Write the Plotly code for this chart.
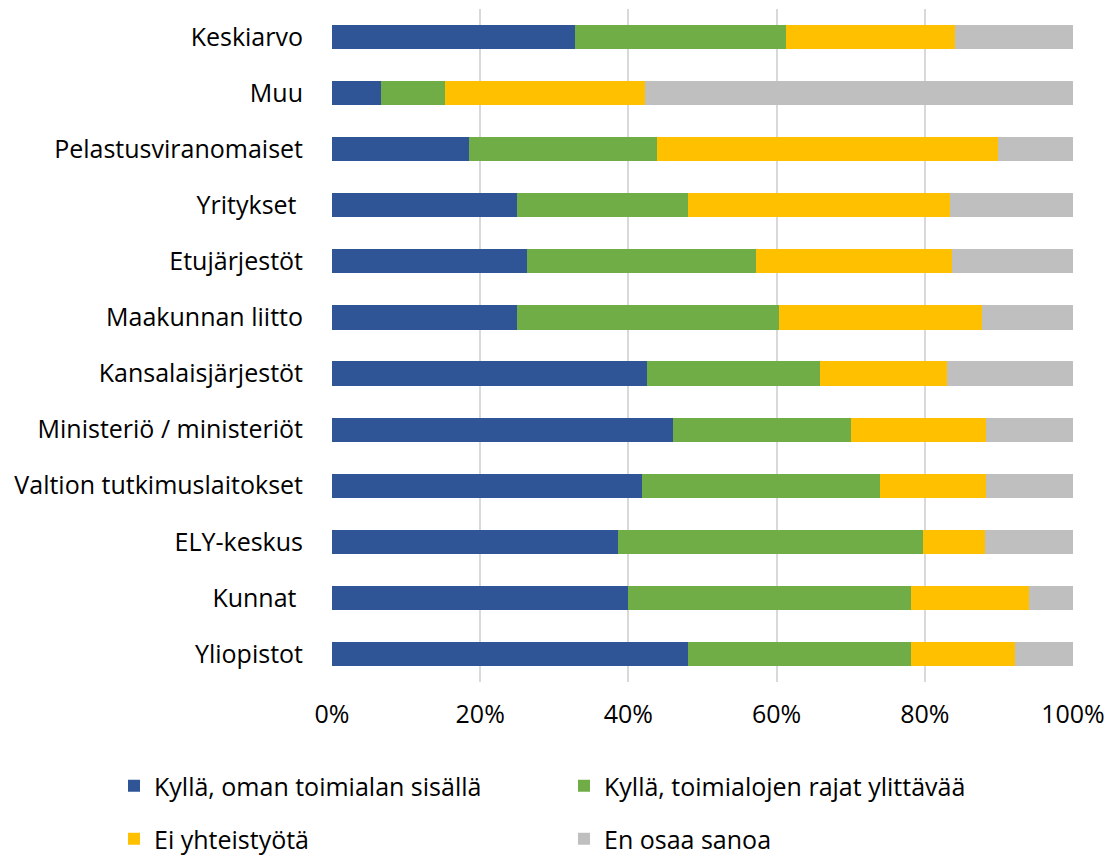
import plotly.graph_objects as go

categories = ["Keskiarvo", "Muu", "Pelastusviranomaiset", "Yritykset ", "Etujärjestöt",
              "Maakunnan liitto", "Kansalaisjärjestöt", "Ministeriö / ministeriöt",
              "Valtion tutkimuslaitokset", "ELY-keskus", "Kunnat ", "Yliopistot"]
oman = [32.8, 6.6, 18.5, 25.0, 26.3, 25.0, 42.5, 46.0, 41.8, 38.6, 39.9, 48.0]
rajat = [28.5, 8.6, 25.4, 23.0, 30.9, 35.3, 23.4, 24.0, 32.2, 41.2, 38.2, 30.1]
ei = [22.8, 27.0, 46.0, 35.4, 26.5, 27.4, 17.1, 18.3, 14.3, 8.3, 16.0, 14.1]
eos = [15.9, 57.8, 10.1, 16.6, 16.3, 12.3, 17.0, 11.7, 11.7, 11.9, 5.9, 7.8]
xticks = [0, 0.2, 0.4, 0.6, 0.8, 1.0]
xticklabels = ["0%", "20%", "40%", "60%", "80%", "100%"]

series = [
    ("Kyllä, oman toimialan sisällä", oman, "#2F5597"),
    ("Kyllä, toimialojen rajat ylittävää", rajat, "#70AD47"),
    ("Ei yhteistyötä", ei, "#FFC000"),
    ("En osaa sanoa", eos, "#BFBFBF"),
]
W, H = 1104, 851  # page has an 8px body margin
legend_pos = [(106, 778), (556, 778), (106, 831), (556, 831)]

font = dict(family="Open Sans, Liberation Sans, sans-serif", size=25, color="#000000")
lfont = dict(family="Open Sans, Liberation Sans, sans-serif", size=25, color="#000000")

fig = go.Figure()
layout_legends = {}
for i, (name, vals, col) in enumerate(series):
    lg = "legend" if i == 0 else f"legend{i + 1}"
    fig.add_trace(go.Bar(y=categories, x=[v / 100 for v in vals], name=name, orientation="h",
                         marker=dict(color=col, line=dict(width=0)), width=0.43, legend=lg))
    px, py = legend_pos[i]
    layout_legends[lg] = dict(xref="container", yref="container", x=px / W, y=1 - py / H,
                              xanchor="left", yanchor="middle", font=lfont,
                              bgcolor="rgba(0,0,0,0)")

fig.update_layout(
    barmode="stack",
    width=W, height=H,
    margin=dict(l=324, r=39, t=1, b=177, autoexpand=False),
    plot_bgcolor="white", paper_bgcolor="white",
    font=font,
    xaxis=dict(range=[0, 1], tickvals=xticks, ticktext=xticklabels,
               showgrid=True, gridcolor="#D9D9D9", gridwidth=1.5, zeroline=False,
               showline=False, ticks="", ticklabelstandoff=15),
    yaxis=dict(autorange="reversed", showgrid=False, zeroline=False, showline=False,
               ticks="", ticklabelstandoff=28),
    showlegend=True,
    **layout_legends,
)
fig.write_html("out.html")
